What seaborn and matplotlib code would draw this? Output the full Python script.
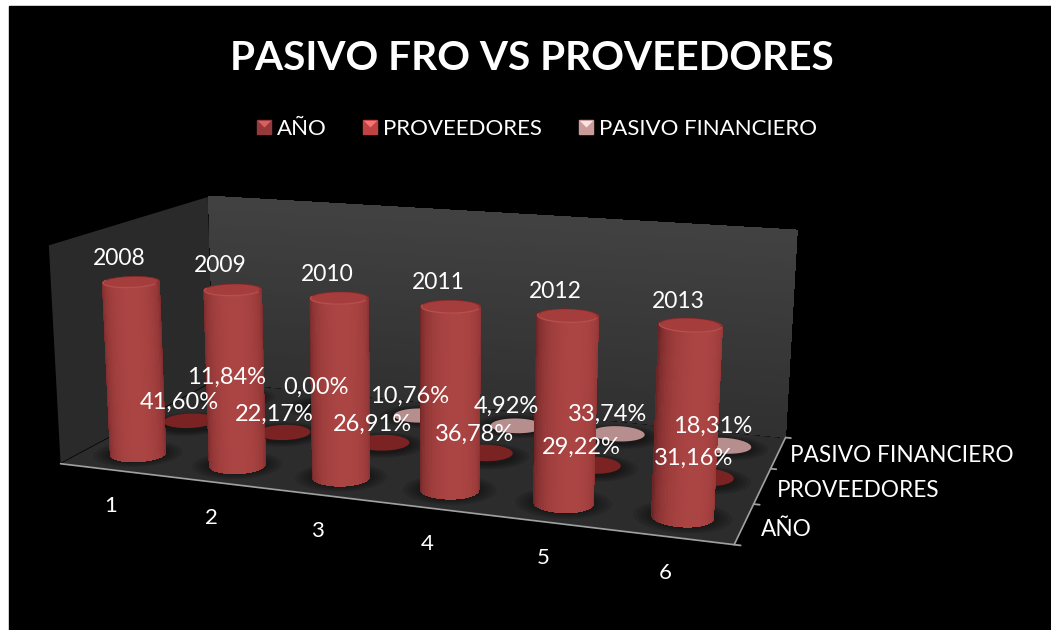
import numpy as np
import matplotlib
matplotlib.use('Agg')
import matplotlib.pyplot as plt
import seaborn as sns
from matplotlib.lines import Line2D
from matplotlib.legend_handler import HandlerTuple
from matplotlib.patches import Rectangle
from mpl_toolkits.mplot3d import proj3d
from mpl_toolkits.mplot3d.art3d import Poly3DCollection

categories = ['1', '2', '3', '4', '5', '6']
series = ['AÑO', 'PROVEEDORES', 'PASIVO FINANCIERO']
anio = [2008, 2009, 2010, 2011, 2012, 2013]
proveedores = [41.60, 22.17, 26.91, 36.78, 29.22, 31.16]
pasivo = [11.84, 0.00, 10.76, 4.92, 33.74, 18.31]

sns.set_theme(style='dark')
plt.rcParams['font.family'] = ['Lato', 'DejaVu Sans']
W, H = 1051, 630
fig = plt.figure(figsize=(W/100, H/100), dpi=100, facecolor='white')
fig.add_artist(Rectangle((9/W, 0), 1, 1-6/H, transform=fig.transFigure, color='black', zorder=-5))

# view found by fitting the box corners of the picture
ax = fig.add_axes([0.04556, -0.16064, 0.71485, 1.19255], projection='3d', computed_zorder=False)
ax.patch.set_alpha(0)
ax.set_xlim(0, 6, view_margin=0)
ax.set_ylim(0, 3, view_margin=0)
ax.set_zlim(0, 2500, view_margin=0)
bx, by = 3.0226, 1.5211
azim = -70.767
ax.view_init(elev=13.74, azim=azim, roll=-0.188)
ax.set_proj_type('persp', focal_length=0.4008)
ax.set_box_aspect((bx, by, 1))

ry_ratio = (bx/6)/(by/3)
theta = np.linspace(0, 2*np.pi, 61)
rad = 0.25
line_gray = '#a0a0a0'

ax.xaxis.set_pane_color('#2a2a2a')
ax.yaxis.set_pane_color('#3e3e3e')
ax.zaxis.set_pane_color('#2c2c2c')
for a in [ax.xaxis, ax.yaxis, ax.zaxis]:
    a.pane.set_edgecolor((0, 0, 0, 0))
    a.line.set_color(line_gray)
ax.zaxis.line.set_color((0, 0, 0, 0))
ax.grid(False)
ax.set_xticks([])
ax.set_yticks([])
ax.set_zticks([])

# back wall gets lighter towards the top
wall_cmap = sns.blend_palette(['#303030', '#424242'], 32, as_cmap=True)
wx, wz = np.meshgrid([0, 6], np.linspace(0, 2500, 31))
ax.plot_surface(wx, np.full(wx.shape, 3.0), wz, facecolors=wall_cmap(wz/2500), rstride=1, cstride=1,
                shade=False, linewidth=0, antialiased=False, zorder=0)

def disc(x, y, z, r, color, alpha=1, zorder=1):
    verts = np.c_[x+r*np.cos(theta), y+r*ry_ratio*np.sin(theta), np.full(len(theta), z)]
    ax.add_collection3d(Poly3DCollection([verts], facecolors=color, edgecolors='none', alpha=alpha, zorder=zorder))

def shadow(x, y, zorder):
    for r in np.linspace(1.6, 1.05, 5):
        disc(x, y, 0, rad*r, 'black', .1, zorder)

def label(x, y, z, s, dx, dy, ha='center', size=17):
    # 2d text at the projected point, shifted in pixels
    px, py, _ = proj3d.proj_transform(x, y, z, ax.get_proj())
    ax.annotate(s, (px, py), xytext=(dx, dy), textcoords='offset pixels', color='white', fontsize=size,
                ha=ha, va='center', zorder=10, annotation_clip=False)

def pct(v):
    return f'{v:.2f}%'.replace('.', ',')

cyl_cmap = sns.blend_palette(['#6d2626', '#8f3535', '#ab4543'], 32, as_cmap=True)
az = np.deg2rad(azim)
for i in range(6):
    for k, v, col, zo in [(2, pasivo[i], '#b68e8e', 2), (1, proveedores[i], '#7b2222', 3)]:
        shadow(i+.5, k+.5, zo)
        if v > 0:
            disc(i+.5, k+.5, v, rad, col, 1, zo+.1)

for i in range(6):
    shadow(i+.5, .5, 4)
    t, z = np.meshgrid(theta, [0, anio[i]])
    X = i+.5+rad*np.cos(t)
    Y = .5+rad*ry_ratio*np.sin(t)
    light = np.clip(np.cos(t-az-np.deg2rad(8)), 0, 1)**.8
    ax.plot_surface(X, Y, z, facecolors=cyl_cmap(light), rstride=1, cstride=1, shade=False,
                    linewidth=0, antialiased=False, zorder=5)
    disc(i+.5, .5, anio[i], rad, '#8e3232', 1, 6)
    disc(i+.5, .5, anio[i], rad*.93, '#a43d3c', 1, 6.1)
    front = theta[31:]
    ax.plot(i+.5+rad*.97*np.cos(front), .5+rad*.97*ry_ratio*np.sin(front), np.full(len(front), anio[i]),
            color='#b5504e', lw=1, zorder=6.2)

    label(i+.5, .5, anio[i], str(anio[i]), -12, 24, size=16.5)
    label(i+.5, 1.5, proveedores[i], pct(proveedores[i]), -10-.2*i, 18)
    label(i+.5, 2.5, pasivo[i], pct(pasivo[i]), -9-.5*i, 19)
    label(i+.5, 0, 0, categories[i], 1-1.2*i, -36, size=16)

for k in range(4):
    ax.plot([6, 6.05], [k, k], [0, 0], color=line_gray, lw=1.3, zorder=7)
for k, name in enumerate(series):
    label(6, k+.5, 0, name, 17-2.5*k, -6+1.5*k, ha='left', size=16.3)

fig.text(532/W, 1-58/H, 'PASIVO FRO VS PROVEEDORES', color='white', fontsize=29.2, fontweight='bold',
         ha='center', va='center')
colors = ['#96393a', '#c04343', '#c99b9b']
tops = ['#d86060', '#f87474', '#fbe2e2']
handles = []
for c0, c1 in zip(colors, tops):
    handles.append((Line2D([], [], marker='s', ls='', color=c0, ms=9.5),
                    Line2D([], [], marker=[(-1, 1), (1, 1), (0, 0)], ls='', color=c1, ms=9.5, mew=0)))
fig.legend(handles, series, ncol=3, frameon=False, labelcolor='white', fontsize=16, loc='center',
           bbox_to_anchor=(536.5/W, 1-129/H), handler_map={tuple: HandlerTuple(ndivide=1, pad=0)},
           handlelength=.7, handletextpad=.25, columnspacing=1.6)
fig.savefig('out.png', dpi=100, facecolor='white')
